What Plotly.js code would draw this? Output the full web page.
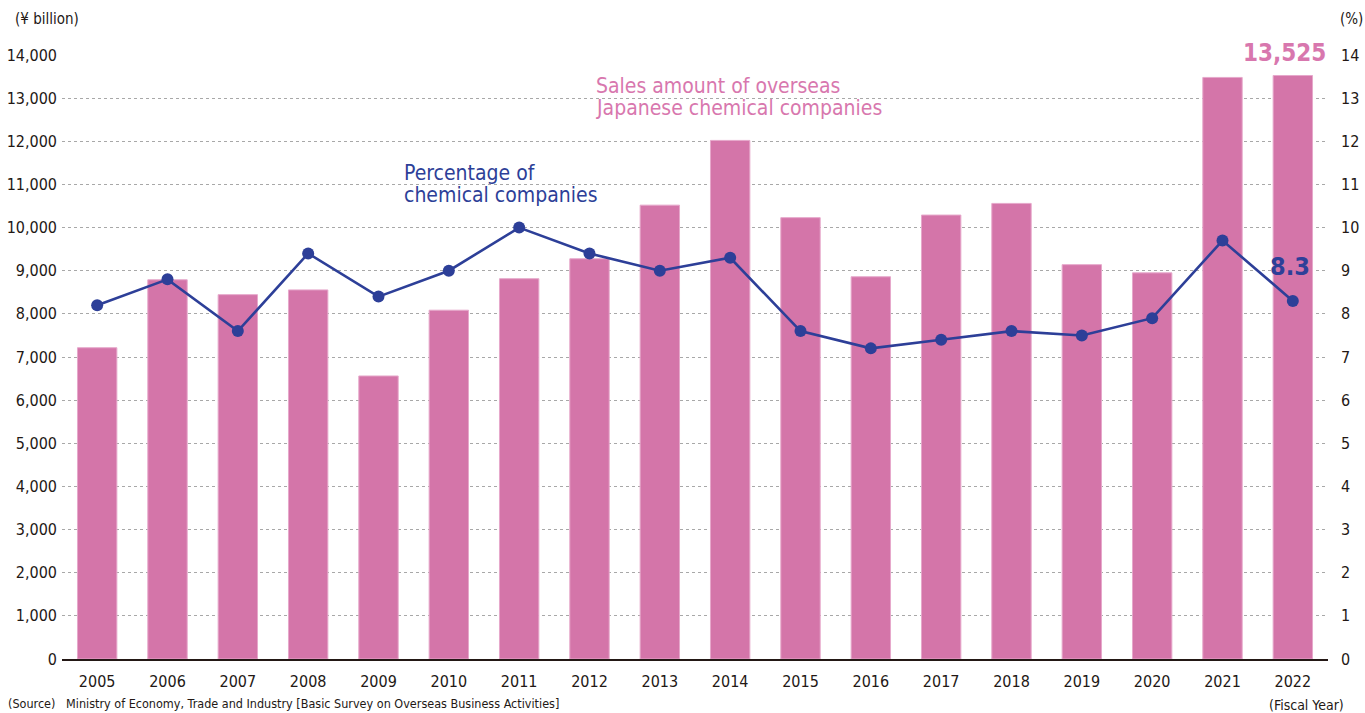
<!DOCTYPE html>
<html>
<head>
<meta charset="utf-8">
<script src="https://cdn.plot.ly/plotly-3.0.1.min.js"></script>
<style>
html,body{margin:0;padding:0;background:#fff;}
#chart{width:1365px;height:713px;}
</style>
</head>
<body>
<div id="chart"></div>
<script>
// Data
const years = ["2005","2006","2007","2008","2009","2010","2011","2012","2013","2014","2015","2016","2017","2018","2019","2020","2021","2022"];
const salesBillionYen = [7215, 8790, 8445, 8555, 6560, 8085, 8815, 9277, 10520, 12020, 10230, 8860, 10290, 10560, 9140, 8950, 13480, 13525];
const percentChemical = [8.2, 8.8, 7.6, 9.4, 8.4, 9.0, 10.0, 9.4, 9.0, 9.3, 7.6, 7.2, 7.4, 7.6, 7.5, 7.9, 9.7, 8.3];
const leftTicks = [0,1000,2000,3000,4000,5000,6000,7000,8000,9000,10000,11000,12000,13000,14000];
const rightTicks = [0,1,2,3,4,5,6,7,8,9,10,11,12,13,14];

const PINK = "#D475A9";
const PINK_TEXT = "#D877AE";
const BLUE = "#2D3F98";
const INK = "#231815";
const FONT = "'Liberation Sans Narrow', 'DejaVu Sans Condensed', Roboto, sans-serif";

const fmt = v => v.toLocaleString("en-US");

const traces = [
  {
    type: "bar",
    x: years,
    y: salesBillionYen,
    marker: {color: PINK, line: {color: "#E6A8CB", width: 1}},
    hoverinfo: "x+y",
    yaxis: "y"
  },
  {
    type: "scatter",
    mode: "lines+markers",
    x: years,
    y: percentChemical,
    yaxis: "y2",
    line: {color: BLUE, width: 2.6},
    marker: {color: BLUE, size: 12},
    hoverinfo: "x+y"
  }
];

const last = years.length - 1;

function label(text, x, y, color, size, xanchor) {
  return {
    xref: "paper", yref: "paper", x: x, y: y,
    xanchor: xanchor || "left", yanchor: "middle", align: "left",
    text: text, showarrow: false,
    font: {family: FONT, size: size, color: color}
  };
}

const layout = {
  width: 1365,
  height: 713,
  margin: {l: 62, r: 37, t: 55, b: 54},
  paper_bgcolor: "#fff",
  plot_bgcolor: "#fff",
  showlegend: false,
  bargap: 0.44,
  font: {family: FONT, color: INK, size: 16},
  xaxis: {
    type: "category",
    range: [-0.5, years.length - 0.5],
    showgrid: false,
    zeroline: false,
    showline: true,
    linecolor: INK,
    linewidth: 2,
    ticks: "",
    ticklabelstandoff: 7,
    tickfont: {family: FONT, size: 16, color: INK}
  },
  yaxis: {
    range: [0, 14000],
    tickvals: leftTicks,
    ticktext: leftTicks.map(fmt),
    showgrid: true,
    gridcolor: "#a8a8a8",
    griddash: "dot",
    gridwidth: 1,
    zeroline: false,
    showline: false,
    ticks: "",
    ticklabelstandoff: 4,
    tickfont: {family: FONT, size: 16, color: INK}
  },
  yaxis2: {
    overlaying: "y",
    side: "right",
    range: [0, 14],
    tickvals: rightTicks,
    ticktext: rightTicks.map(String),
    showgrid: false,
    zeroline: false,
    showline: false,
    ticks: "",
    ticklabelstandoff: 12,
    tickfont: {family: FONT, size: 16, color: INK}
  },
  annotations: [
    label("Sales amount of overseas", 0.4202, 0.9487, PINK_TEXT, 21),
    label("Japanese chemical companies", 0.4202, 0.9123, PINK_TEXT, 21),
    label("Percentage of", 0.2686, 0.8046, BLUE, 21),
    label("chemical companies", 0.2686, 0.7682, BLUE, 21),
    {
      xref: "x", yref: "paper",
      x: last, y: 1.003, xanchor: "center", yanchor: "middle", xshift: -8,
      text: "<b>" + fmt(salesBillionYen[last]) + "</b>",
      showarrow: false,
      font: {family: FONT, size: 24, color: PINK_TEXT}
    },
    {
      xref: "x", yref: "y2",
      x: last, y: percentChemical[last], xanchor: "center", yanchor: "middle", yshift: 34, xshift: -3,
      text: "<b>" + percentChemical[last] + "</b>",
      showarrow: false,
      font: {family: FONT, size: 25, color: BLUE}
    },
    label("(¥ billion)", -0.039, 1.060, INK, 15),
    label("(%)", 1.008, 1.060, INK, 15),
    label("(Fiscal Year)", 1.014, -0.0765, INK, 14, "right"),
    label("(Source)   Ministry of Economy, Trade and Industry [Basic Survey on Overseas Business Activities]", -0.044, -0.0745, INK, 12.5)
  ]
};

Plotly.newPlot("chart", traces, layout, {displayModeBar: false, staticPlot: true});
</script>
</body>
</html>
